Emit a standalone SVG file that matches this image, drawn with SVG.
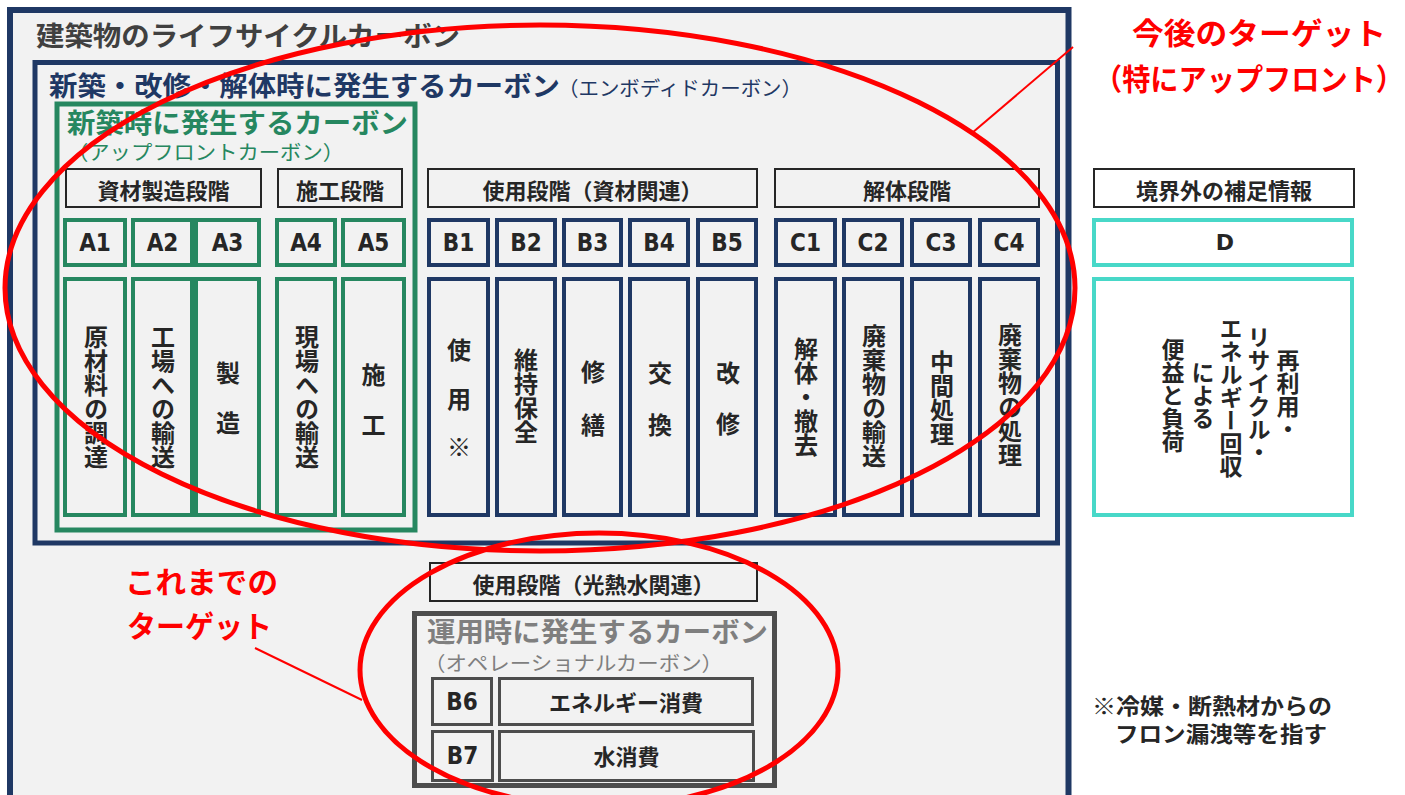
<svg xmlns="http://www.w3.org/2000/svg" width="1405" height="795" viewBox="0 0 1405 795">
<style>
text{font-family:"Noto Sans CJK JP","Noto Sans CJK SC",sans-serif;dominant-baseline:central}
.nv{fill:#f2f2f2;stroke:#1f3864;stroke-width:4}
.gr{fill:#f2f2f2;stroke:#268760;stroke-width:4}
.tq{fill:#fff;stroke:#48d8c8;stroke-width:4}
.hd{fill:#f2f2f2;stroke:#262626;stroke-width:2}
.gy{fill:#f2f2f2;stroke:#4d4d4d;stroke-width:3}
.code{font-family:"DejaVu Sans Condensed","DejaVu Sans",sans-serif;font-weight:bold;font-size:24px;text-anchor:middle;fill:#262626}
.hdt{font-size:22px;font-weight:bold;text-anchor:middle;fill:#262626}
.vt{writing-mode:vertical-rl;text-anchor:middle;font-size:24px;font-weight:bold;fill:#262626}
.ch{font-size:24px;font-weight:bold;text-anchor:middle;fill:#262626}
.vd{writing-mode:vertical-rl;text-anchor:middle;font-size:23px;font-weight:bold;fill:#262626}
.red{fill:#ff0000;font-weight:bold;font-size:30px}
.ell{fill:none;stroke:#ff0000;stroke-width:5}
.lead{stroke:#ff0000;stroke-width:2;fill:none}
</style>
<rect width="1405" height="795" fill="#ffffff"/>

<g id="lifecycle">
<rect x="10" y="10" width="1058.5" height="800" fill="#f2f2f2" stroke="#1f3864" stroke-width="6"/>
<text x="36" y="34" font-size="27" font-weight="bold" fill="#404040" textLength="424" lengthAdjust="spacingAndGlyphs">建築物のライフサイクルカーボン</text>
</g>

<g id="embodied">
<rect x="35" y="62.5" width="1022.5" height="480.5" fill="#f2f2f2" stroke="#1f3864" stroke-width="5"/>
<text x="49" y="84" font-size="27" font-weight="bold" fill="#1f3864" textLength="511" lengthAdjust="spacingAndGlyphs">新築・改修・解体時に発生するカーボン</text>
<text x="558" y="87" font-size="20" fill="#1f3864" textLength="244" lengthAdjust="spacingAndGlyphs">（エンボディドカーボン）</text>
</g>

<g id="upfront">
<rect x="57" y="104" width="358" height="426" fill="#f2f2f2" stroke="#268760" stroke-width="5"/>
<text x="67" y="121" font-size="27" font-weight="bold" fill="#268760" textLength="341" lengthAdjust="spacingAndGlyphs">新築時に発生するカーボン</text>
<text x="67" y="151" font-size="20" fill="#268760" textLength="277" lengthAdjust="spacingAndGlyphs">（アップフロントカーボン）</text>
</g>

<g id="header-product"><rect class="hd" x="66" y="169" width="195" height="38"/><text class="hdt" x="163.5" y="189">資材製造段階</text></g>
<g id="header-construction"><rect class="hd" x="278" y="169" width="124" height="38"/><text class="hdt" x="340" y="189">施工段階</text></g>
<g id="header-use"><rect class="hd" x="428" y="169" width="329" height="38"/><text class="hdt" x="592.5" y="189">使用段階（資材関連）</text></g>
<g id="header-eol"><rect class="hd" x="775" y="169" width="264" height="38"/><text class="hdt" x="907" y="189">解体段階</text></g>
<g id="header-beyond"><rect class="hd" x="1094" y="169" width="260" height="38" style="fill:#fff"/><text class="hdt" x="1224" y="189">境界外の補足情報</text></g>

<g id="A1"><rect class="gr" x="65" y="220" width="60" height="45"/><text class="code" x="95" y="242.5">A1</text><rect class="gr" x="65" y="279" width="60" height="236"/><text class="vt" x="96" y="397">原材料の調達</text></g>
<g id="A2"><rect class="gr" x="133" y="220" width="59" height="45"/><text class="code" x="162.5" y="242.5">A2</text><rect class="gr" x="133" y="279" width="59" height="236"/><text class="vt" x="163" y="397">工場への輸送</text></g>
<g id="A3"><rect class="gr" x="196" y="220" width="63" height="45"/><text class="code" x="227.5" y="242.5">A3</text><rect class="gr" x="196" y="279" width="63" height="236"/><text class="ch"><tspan x="228" y="371">製</tspan><tspan x="228" y="421">造</tspan></text></g>
<g id="A4"><rect class="gr" x="277" y="220" width="58" height="45"/><text class="code" x="306" y="242.5">A4</text><rect class="gr" x="277" y="279" width="58" height="236"/><text class="vt" x="307" y="397">現場への輸送</text></g>
<g id="A5"><rect class="gr" x="343" y="220" width="61" height="45"/><text class="code" x="373.5" y="242.5">A5</text><rect class="gr" x="343" y="279" width="61" height="236"/><text class="ch"><tspan x="373.5" y="373">施</tspan><tspan x="373.5" y="422.5">工</tspan></text></g>

<g id="B1"><rect class="nv" x="429" y="220" width="59" height="45"/><text class="code" x="458.5" y="242.5">B1</text><rect class="nv" x="429" y="279" width="59" height="236"/><text class="ch"><tspan x="459" y="347.5">使</tspan><tspan x="459" y="397">用</tspan><tspan x="459" y="445">※</tspan></text></g>
<g id="B2"><rect class="nv" x="497" y="220" width="58" height="45"/><text class="code" x="526" y="242.5">B2</text><rect class="nv" x="497" y="279" width="58" height="236"/><text class="vt" x="526" y="396">維持保全</text></g>
<g id="B3"><rect class="nv" x="564" y="220" width="57" height="45"/><text class="code" x="592.5" y="242.5">B3</text><rect class="nv" x="564" y="279" width="57" height="236"/><text class="ch"><tspan x="593" y="370">修</tspan><tspan x="593" y="422.5">繕</tspan></text></g>
<g id="B4"><rect class="nv" x="630" y="220" width="58" height="45"/><text class="code" x="659" y="242.5">B4</text><rect class="nv" x="630" y="279" width="58" height="236"/><text class="ch"><tspan x="660" y="371">交</tspan><tspan x="660" y="423">換</tspan></text></g>
<g id="B5"><rect class="nv" x="698" y="220" width="58" height="45"/><text class="code" x="727" y="242.5">B5</text><rect class="nv" x="698" y="279" width="58" height="236"/><text class="ch"><tspan x="728" y="371">改</tspan><tspan x="728" y="422">修</tspan></text></g>

<g id="C1"><rect class="nv" x="776" y="220" width="59" height="45"/><text class="code" x="805.5" y="242.5">C1</text><rect class="nv" x="776" y="279" width="59" height="236"/><text class="vt" x="806" y="397">解体・撤去</text></g>
<g id="C2"><rect class="nv" x="844" y="220" width="58" height="45"/><text class="code" x="873" y="242.5">C2</text><rect class="nv" x="844" y="279" width="58" height="236"/><text class="vt" x="874" y="396">廃棄物の輸送</text></g>
<g id="C3"><rect class="nv" x="912" y="220" width="58" height="45"/><text class="code" x="941" y="242.5">C3</text><rect class="nv" x="912" y="279" width="58" height="236"/><text class="vt" x="942" y="398">中間処理</text></g>
<g id="C4"><rect class="nv" x="980" y="220" width="58" height="45"/><text class="code" x="1009" y="242.5">C4</text><rect class="nv" x="980" y="279" width="58" height="236"/><text class="vt" x="1010" y="395">廃棄物の処理</text></g>

<g id="D"><rect class="tq" x="1094" y="220" width="258" height="45"/><text class="code" x="1225" y="242.5" style="font-family:'DejaVu Sans',sans-serif;font-size:22px">D</text><rect class="tq" x="1094" y="279" width="258" height="236"/>
<text class="vd" x="1288" y="395">再利用・</text>
<text class="vd" x="1259" y="395">リサイクル・</text>
<text class="vd" x="1231" y="397">エネルギー回収</text>
<text class="vd" x="1203" y="395">による</text>
<text class="vd" x="1173" y="395">便益と負荷</text>
</g>

<g id="header-operational"><rect class="hd" x="430" y="563" width="327" height="38"/><text class="hdt" x="593.5" y="583">使用段階（光熱水関連）</text></g>

<g id="operational">
<rect x="414.5" y="613.5" width="360" height="172" fill="#f2f2f2" stroke="#4d4d4d" stroke-width="5"/>
<text x="427" y="630" font-size="27" font-weight="bold" fill="#7f7f7f" textLength="341" lengthAdjust="spacingAndGlyphs">運用時に発生するカーボン</text>
<text x="424" y="662.5" font-size="20" fill="#7f7f7f" textLength="299" lengthAdjust="spacingAndGlyphs">（オペレーショナルカーボン）</text>
</g>
<g id="B6"><rect class="gy" x="432.5" y="678.5" width="59" height="46"/><text class="code" x="462" y="702">B6</text><rect class="gy" x="499.5" y="678.5" width="253" height="46"/><text class="hdt" x="626" y="701">エネルギー消費</text></g>
<g id="B7"><rect class="gy" x="432.5" y="731.5" width="60" height="49"/><text class="code" x="462.5" y="756">B7</text><rect class="gy" x="499.5" y="731.5" width="254" height="49"/><text class="hdt" x="626.5" y="755">水消費</text></g>

<g id="note">
<text x="1092" y="704" font-size="22" font-weight="bold" fill="#262626" textLength="240" lengthAdjust="spacingAndGlyphs">※冷媒・断熱材からの</text>
<text x="1115" y="732" font-size="22" font-weight="bold" fill="#262626" textLength="212" lengthAdjust="spacingAndGlyphs">フロン漏洩等を指す</text>
</g>

<g id="target-future">
<ellipse class="ell" cx="540" cy="288" rx="535" ry="263"/>
<text class="red" x="1132" y="31" textLength="254" lengthAdjust="spacingAndGlyphs">今後のターゲット</text>
<text class="red" x="1094" y="77" textLength="310" lengthAdjust="spacingAndGlyphs">（特にアップフロント）</text>
</g>

<g id="target-past">
<ellipse class="ell" cx="599" cy="670" rx="239" ry="137"/>
<text class="red" x="125" y="580" textLength="153" lengthAdjust="spacingAndGlyphs">これまでの</text>
<text class="red" x="127" y="624" textLength="145" lengthAdjust="spacingAndGlyphs">ターゲット</text>
</g>

<g id="connectors">
<line class="lead" x1="1073" y1="47" x2="972" y2="133"/>
<line class="lead" x1="255" y1="648" x2="362" y2="700"/>
</g>
</svg>
